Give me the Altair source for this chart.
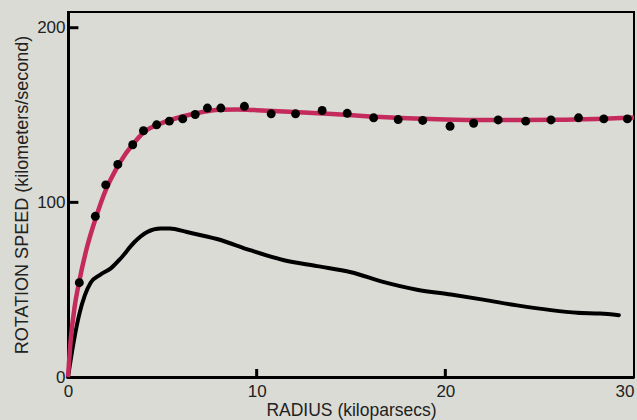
import altair as alt
import pandas as pd

# Observed rotation speeds (dots)
obs_r = [0.6, 1.45, 2.0, 2.64, 3.43, 4.0, 4.7, 5.37, 6.08, 6.74, 7.39, 8.1, 9.35,
         10.77, 12.06, 13.47, 14.8, 16.2, 17.5, 18.8, 20.25, 21.5, 22.8, 24.26,
         25.6, 27.06, 28.4, 29.65]
obs_v = [54, 92, 110, 121.7, 133, 141, 144.4, 146.5, 147.8, 150.3, 154, 154, 155,
         150.7, 150.7, 152.6, 151, 148.4, 147.4, 146.9, 143.6, 145.3, 147.2, 146.5,
         147.2, 148.4, 147.8, 147.8]

# Fitted curve (red)
fit_r = [0, 0.15, 0.35, 0.6, 1.0, 1.5, 2.0, 2.5, 3.0, 3.5, 4.0, 5.0, 6.0, 7.0, 8.0,
         9.0, 10.0, 12.0, 14.0, 16.0, 18.0, 20.0, 22.0, 24.0, 26.0, 28.0, 30.0]
fit_v = [0, 22, 40, 55, 74, 92, 107, 118, 127, 134, 140, 145.5, 149, 151.5, 153,
         153.2, 152.8, 151.8, 150.6, 149.2, 148.2, 147.5, 147.2, 147.2, 147.3, 147.8, 148.6]

# Visible-matter curve (black)
disk_r = [0, 0.3, 0.6, 0.9, 1.2, 1.7, 2.3, 2.8, 3.5, 4.2, 4.9, 5.4, 6.3, 7.9, 9.65,
          11.4, 13.2, 15.0, 16.7, 18.5, 20.3, 22.0, 23.8, 25.6, 27.0, 28.2, 29.2]
disk_v = [0, 20, 36, 47, 54, 58.5, 62.5, 68, 77, 83, 85, 85, 83, 79, 72.6,
          67, 63.5, 60, 54.5, 50, 47.2, 44.3, 41, 38.3, 36.8, 36.3, 35.4]

x_labels = [0, 10, 20, 30]
y_labels = [0, 100, 200]
xtick_vals = [10.0, 20.0]
ytick_vals = [100.0, 200.0]

obs = pd.DataFrame({"r": obs_r, "v": obs_v})
fit = pd.DataFrame({"r": fit_r, "v": fit_v})
disk = pd.DataFrame({"r": disk_r, "v": disk_v})
xt = pd.DataFrame({"t": xtick_vals})
yt = pd.DataFrame({"t": ytick_vals})

FONT = "Liberation Sans"
BG = "#dadbd5"
W, H = 566, 365

xscale = alt.Scale(domain=[0, 30], nice=False)
yscale = alt.Scale(domain=[0, 209], nice=False)

xaxis = alt.Axis(values=x_labels, tickSize=0, grid=False,
                 domainColor="black", domainWidth=3,
                 labelFont=FONT, labelFontSize=17, labelColor="#222",
                 labelPadding=6,
                 labelAlign={"condition": {"test": "datum.value == 30", "value": "right"},
                             "value": "center"},
                 title="RADIUS (kiloparsecs)", titleFont=FONT, titleFontSize=17.5,
                 titleFontWeight="normal", titleColor="#222", titlePadding=2)
yaxis = alt.Axis(values=y_labels, tickSize=0, grid=False,
                 domainColor="black", domainWidth=3,
                 labelFont=FONT, labelFontSize=17, labelColor="#222",
                 labelPadding=3,
                 title="ROTATION SPEED (kilometers/second)", titleFont=FONT,
                 titleFontSize=18, titleFontWeight="normal", titleColor="#222",
                 titlePadding=5)

disk_line = alt.Chart(disk).mark_line(color="black", strokeWidth=4,
                                      interpolate="monotone", strokeCap="round").encode(
    x=alt.X("r:Q", scale=xscale, axis=xaxis),
    y=alt.Y("v:Q", scale=yscale, axis=yaxis),
)
fit_line = alt.Chart(fit).mark_line(color="#c42a5c", strokeWidth=4.5,
                                    interpolate="monotone").encode(
    x=alt.X("r:Q", scale=xscale),
    y=alt.Y("v:Q", scale=yscale),
)
dots = alt.Chart(obs).mark_circle(color="black", size=80, opacity=1).encode(
    x=alt.X("r:Q", scale=xscale),
    y=alt.Y("v:Q", scale=yscale),
)
# inward tick marks as small filled rectangles
xticks = alt.Chart(xt).transform_calculate(
    a="datum.t - 0.08", b="datum.t + 0.08", lo="0", hi="4.6"
).mark_rect(color="black", opacity=1).encode(
    x=alt.X("a:Q", scale=xscale), x2="b:Q",
    y=alt.Y("lo:Q", scale=yscale), y2="hi:Q",
)
yticks = alt.Chart(yt).transform_calculate(
    a="datum.t - 0.85", b="datum.t + 0.85", lo="0", hi="0.55"
).mark_rect(color="black", opacity=1).encode(
    y=alt.Y("a:Q", scale=yscale), y2="b:Q",
    x=alt.X("lo:Q", scale=xscale), x2="hi:Q",
)

chart = alt.layer(disk_line, fit_line, dots, xticks, yticks).properties(
    width=W, height=H,
    background=BG,
    padding={"left": 68, "top": 12, "right": 3, "bottom": 43},
    autosize=alt.AutoSizeParams(type="none"),
).configure_view(stroke="black", strokeWidth=2)

chart.save("out.html", embed_options={"renderer": "svg", "actions": False})
